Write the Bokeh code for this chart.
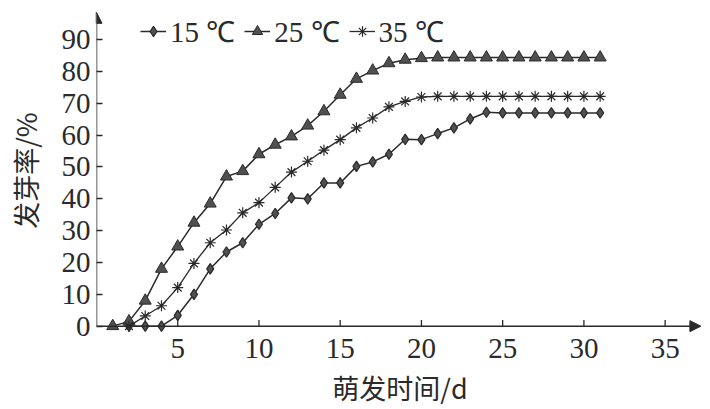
from bokeh.plotting import figure
from bokeh.models import Arrow, NormalHead, FixedTicker, Range1d, Legend, LegendItem
from bokeh.embed import file_html
from bokeh.resources import INLINE

# ---- data ----
days15 = list(range(2, 32))
germ15 = [0, 0, 0, 3.4, 10, 18, 23.3, 26.2, 32, 35.4, 40.3, 40, 45, 45,
          50.2, 51.6, 54, 58.7, 58.6, 60.5, 62.3, 65.1, 67.2,
          67, 67, 67, 67, 67, 67, 67]
days25 = list(range(1, 32))
germ25 = [0, 1.5, 8, 18, 25, 32.5, 38.5, 47, 48.7, 54, 57, 59.6, 63, 67.5,
          72.7, 77.7, 80.3, 82.6, 83.7, 84.2, 84.4,
          84.4, 84.4, 84.4, 84.4, 84.4, 84.4, 84.4, 84.4, 84.4, 84.4]
days35 = list(range(2, 32))
germ35 = [0, 3.2, 6.4, 12.1, 19.7, 26.2, 30.2, 35.6, 38.8, 43.6, 48.4, 51.8,
          55.3, 58.6, 62.3, 65.4, 68.9, 70.6, 72, 72.2,
          72.2, 72.2, 72.2, 72.2, 72.2, 72.2, 72.2, 72.2, 72.2, 72.2]
labels = ["15 \u2103", "25 \u2103", "35 \u2103"]
x_ticks = [5, 10, 15, 20, 25, 30, 35]
y_ticks = [0, 10, 20, 30, 40, 50, 60, 70, 80, 90]
x_title = "萌发时间/d"
y_title = "发芽率/%"

INK = "#2a2a2a"
MARK = "#505050"
TICK_LEN = 1.9  # in y data units (~6px)

p = figure(width=710, height=409, output_backend="svg", toolbar_location=None,
           x_range=Range1d(0, 37.3), y_range=Range1d(-2, 99.8),
           min_border_left=96, min_border_right=8, min_border_top=8,
           min_border_bottom=76)
p.grid.visible = False
p.outline_line_color = None
p.background_fill_color = "white"

p.xaxis.ticker = FixedTicker(ticks=x_ticks)
p.yaxis.ticker = FixedTicker(ticks=y_ticks)
for ax in (p.xaxis, p.yaxis):
    ax.axis_line_color = None
    ax.major_tick_in = 6
    ax.major_tick_out = 0
    ax.major_tick_line_color = INK
    ax.major_tick_line_width = 1.3
    ax.minor_tick_line_color = None
    ax.major_label_text_font = "Liberation Serif"
    ax.major_label_text_font_size = "29px"
    ax.major_label_text_color = INK
    ax.axis_label_text_font = "Noto Sans CJK SC"
    ax.axis_label_text_font_size = "27px"
    ax.axis_label_text_font_style = "normal"
    ax.axis_label_text_color = INK
p.xaxis.major_tick_line_color = None
p.xaxis.major_label_standoff = 6
p.yaxis.major_label_standoff = 6
p.xaxis.axis_label = x_title
p.yaxis.axis_label = y_title
p.xaxis.axis_label_standoff = 7
p.yaxis.axis_label_standoff = 14

# x-axis inner ticks drawn on the y=0 baseline
p.segment(x0=x_ticks, y0=[0] * len(x_ticks), x1=x_ticks,
          y1=[TICK_LEN] * len(x_ticks), line_color=INK, line_width=1.3)

# axis arrows
p.add_layout(Arrow(end=NormalHead(size=11, fill_color=INK, line_color=INK),
                   x_start=0, y_start=0, x_end=0, y_end=98.6,
                   line_color=INK, line_width=1.5))
p.add_layout(Arrow(end=NormalHead(size=11, fill_color=INK, line_color=INK),
                   x_start=0, y_start=0, x_end=37.2, y_end=0,
                   line_color=INK, line_width=1.5))

l15 = p.line(days15, germ15, line_color=INK, line_width=1.5)
m15 = p.scatter(days15, germ15, marker="diamond", size=10.5,
                fill_color=MARK, line_color=INK, line_width=1.2)
l25 = p.line(days25, germ25, line_color=INK, line_width=1.5)
m25 = p.scatter(days25, germ25, marker="triangle", size=12,
                fill_color=MARK, line_color=INK, line_width=1)
l35 = p.line(days35, germ35, line_color=INK, line_width=1.3)
m35 = p.scatter(days35, germ35, marker="asterisk", size=11,
                line_color=INK, line_width=1.2)

legend = Legend(items=[LegendItem(label=labels[0], renderers=[l15, m15]),
                       LegendItem(label=labels[1], renderers=[l25, m25]),
                       LegendItem(label=labels[2], renderers=[l35, m35])],
                orientation="horizontal", location=(44, 282),
                background_fill_alpha=0, border_line_color=None,
                padding=0, margin=0, spacing=9, glyph_width=26,
                glyph_height=30, label_height=30, label_standoff=4,
                label_text_font="Liberation Serif", label_text_font_size="29px",
                label_text_color=INK)
p.add_layout(legend)

open("out.html", "w").write(file_html(p, INLINE))
